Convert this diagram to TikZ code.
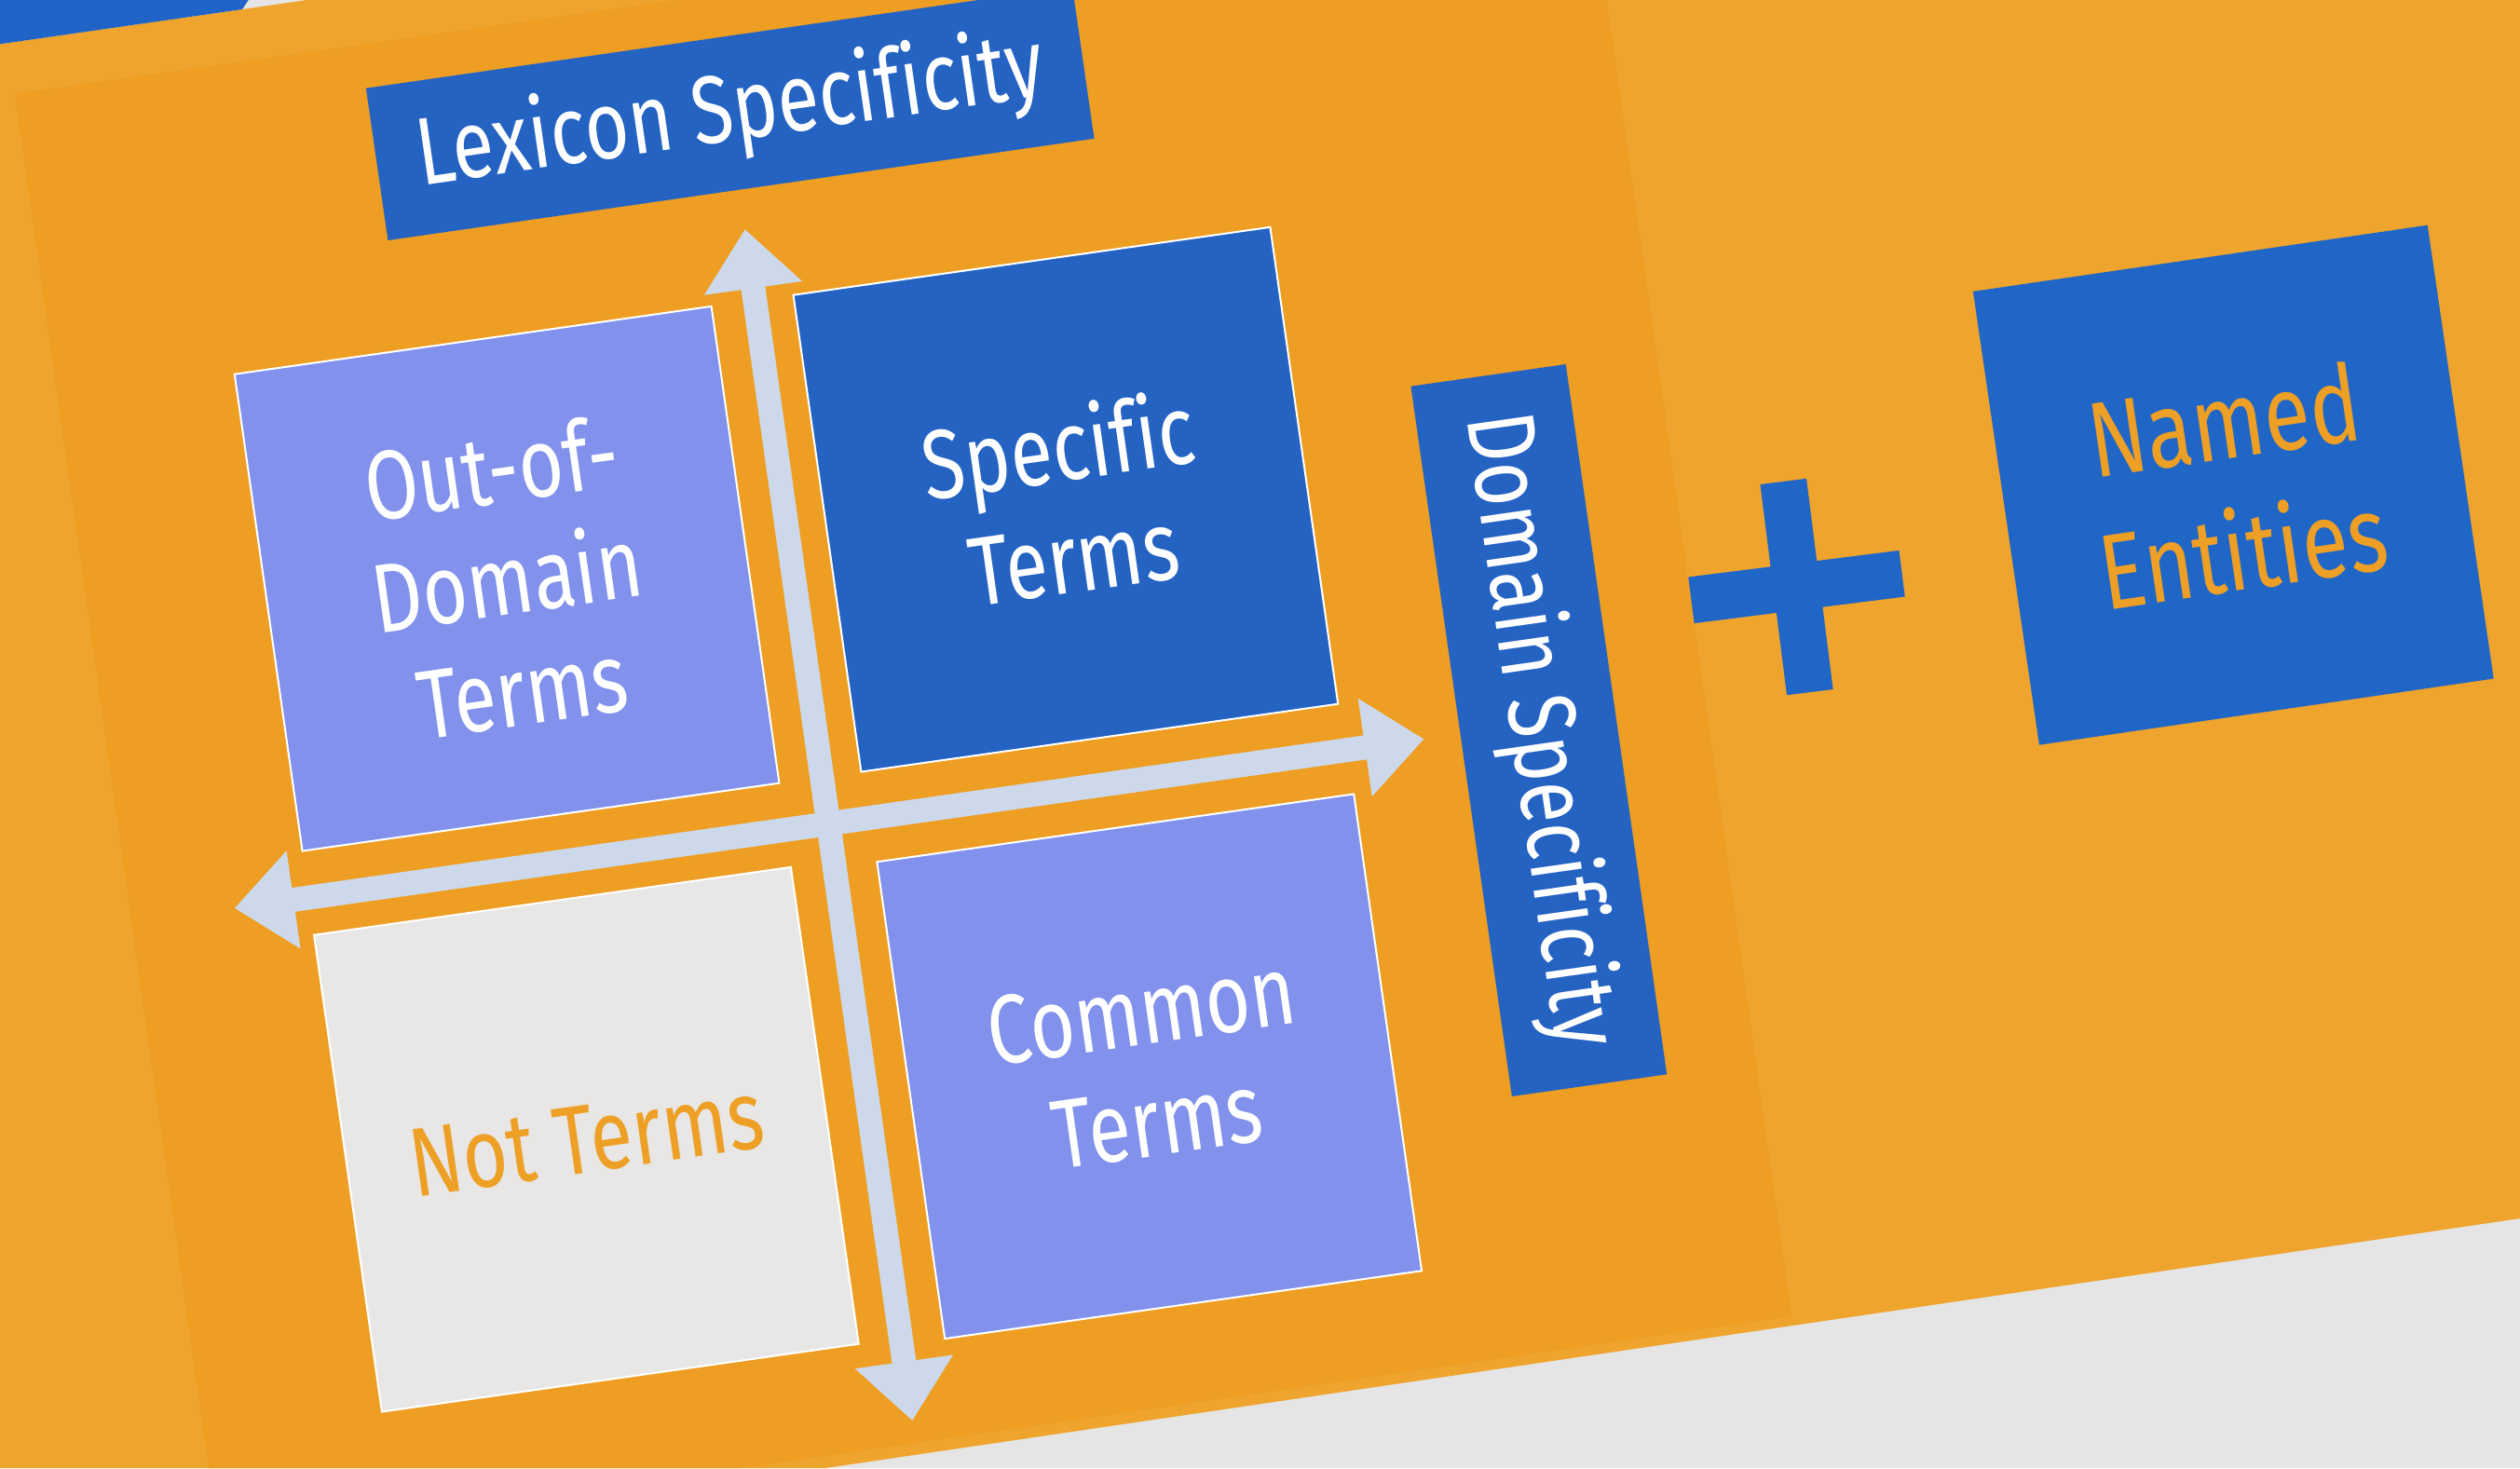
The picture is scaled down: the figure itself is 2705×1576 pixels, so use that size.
\documentclass[tikz,border=0pt]{standalone}
\usepackage{fontspec}
\setmainfont[FakeStretch=0.79, Ligatures=NoCommon]{Fira Sans}
\usetikzlibrary{arrows.meta}

\definecolor{pagegray}{HTML}{E5E5E5}
\definecolor{orangeout}{HTML}{EFA42D}
\definecolor{orangein}{HTML}{ED9E23}
\definecolor{deepblue}{HTML}{2563C3}
\definecolor{brightblue}{HTML}{2066C7}
\definecolor{cornerblue}{HTML}{1F64C6}
\definecolor{lavender}{HTML}{8191EC}
\definecolor{paper}{HTML}{E8E7E5}
\definecolor{axisblue}{HTML}{CDD9EA}
\definecolor{labelorange}{HTML}{EE9F25}

\tikzset{
  cell/.style={rectangle, rotate=8.1, minimum width=517pt, minimum height=517pt,
    inner sep=0pt, draw=white, line width=2pt, align=center, text=white,
    font=\fontsize{105}{120}\selectfont},
  header/.style={rectangle, fill=deepblue, inner sep=0pt, align=center, text=white,
    font=\fontsize{103}{120}\selectfont},
  axis/.style={draw=axisblue, line width=26pt,
    {Triangle[length=64pt,width=102pt]}-{Triangle[length=64pt,width=102pt]}},
}

\begin{document}
\begin{tikzpicture}[x=1pt,y=-1pt]
\useasboundingbox (0,0) rectangle (2705,1576);

% page and tilted panels
\fill[pagegray] (0,0) rectangle (2705,1576);
\fill[orangeout] (0,47.3) -- (329.6,0) -- (2705,0) -- (2705,1308) -- (886,1576) -- (0,1576) -- cycle;
\fill[cornerblue] (0,0) -- (266.7,0) -- (260,10) -- (0,47.3) -- cycle;
\fill[orangein] (16,100.7) -- (726.8,0) -- (1724.6,0) -- (1923,1413) -- (795,1576) -- (224,1576) -- cycle;

% axes
\coordinate (ytop) at (799.6,246);
\coordinate (ybot) at (979.3,1525.2);
\coordinate (xleft) at (251.7,974.9);
\coordinate (xright) at (1528.6,793.4);
\draw[axis] (xleft) -- (xright);
\draw[axis] (ybot) -- (ytop);

% quadrants
\node[cell, fill=lavender] (outdom) at (544.1,621.2) {Out-of-\\Domain\\Terms};
\node[cell, fill=deepblue] (spec) at (1143.9,536.2) {Specific\\Terms};
\node[cell, fill=paper, text=labelorange] (nott) at (629.4,1223.2) {Not Terms};
\node[cell, fill=lavender] (comm) at (1233.7,1144.75) {Common\\Terms};

% axis titles
\node[header, rotate=8.2, minimum width=766pt, minimum height=165pt] (lex) at (783.7,121.75) {Lexicon Specificity};
\node[header, rotate=-81.9, minimum width=770pt, minimum height=168pt] (dom) at (1651.8,784) {Domain Specificity};

% plus sign
\begin{scope}[shift={(1928.5,630)}, rotate=7.2]
  \fill[brightblue] (-25,-114) rectangle (25,114);
  \fill[brightblue] (-114,-25) rectangle (114,25);
\end{scope}

% named entities
\node[rectangle, fill=brightblue, rotate=8.3, minimum width=493pt, minimum height=492pt,
  inner sep=0pt, align=center, text=labelorange, font=\fontsize{115}{142}\selectfont]
  (named) at (2397.3,520.7) {Named\\Entities};
\end{tikzpicture}
\end{document}
